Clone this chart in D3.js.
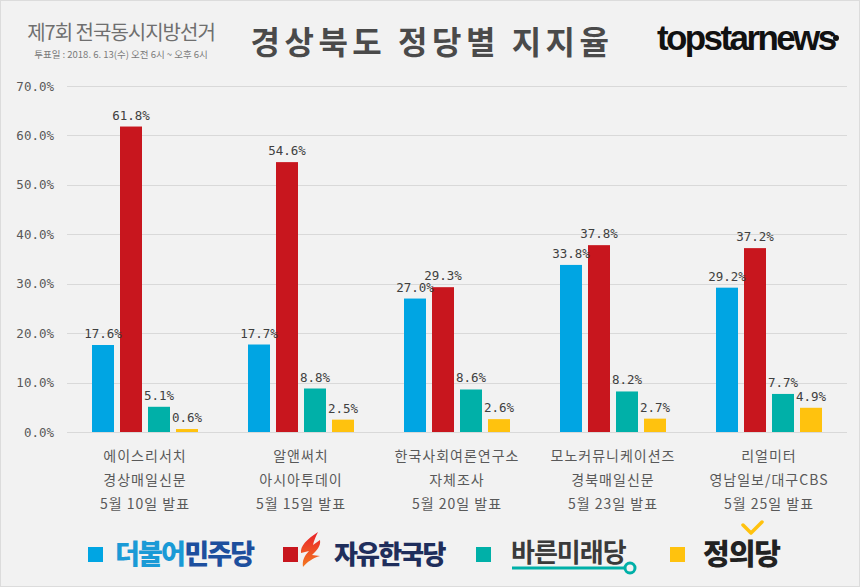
<!DOCTYPE html>
<html><head><meta charset="utf-8">
<script src="https://cdn.jsdelivr.net/npm/d3@7"></script>
<style>
html,body{margin:0;padding:0;background:#f2f2f2;}
svg{display:block;}
</style></head>
<body>
<svg id="chart" width="860" height="587"></svg>
<script>
const categories = [
  ["에이스리서치","경상매일신문","5월 10일 발표"],
  ["알앤써치","아시아투데이","5월 15일 발표"],
  ["한국사회여론연구소","자체조사","5월 20일 발표"],
  ["모노커뮤니케이션즈","경북매일신문","5월 23일 발표"],
  ["리얼미터","영남일보/대구CBS","5월 25일 발표"]
];
const parties = ["더불어민주당","자유한국당","바른미래당","정의당"];
const democratic = [17.6, 17.7, 27.0, 33.8, 29.2];
const libertyKorea = [61.8, 54.6, 29.3, 37.8, 37.2];
const bareunmirae = [5.1, 8.8, 8.6, 8.2, 7.7];
const justice = [0.6, 2.5, 2.6, 2.7, 4.9];
const yTicks = [0,10,20,30,40,50,60,70];
const colors = ["#00a5e3","#c8161e","#00b0a8","#ffc20e"];

const seriesValues = [democratic, libertyKorea, bareunmirae, justice];

const svg = d3.select("#chart");
svg.append("rect").attr("x",0.5).attr("y",0.5).attr("width",859).attr("height",586)
  .attr("fill","#f2f2f2").attr("stroke","#dcdcdc");

const plotL = 67, plotR = 847, plotT = 86, plotB = 432;
const x0 = d3.scaleBand().domain(d3.range(categories.length)).range([plotL,plotR]);
const x1 = d3.scaleBand().domain(d3.range(parties.length)).range([25,131]).paddingInner(0.2143);
const y = d3.scaleLinear().domain([0,70]).range([plotB,plotT]);

// grid
const grid = svg.append("g");
grid.selectAll("line").data(yTicks).join("line")
  .attr("x1",plotL).attr("x2",plotR)
  .attr("y1",d=>Math.round(y(d))+0.5).attr("y2",d=>Math.round(y(d))+0.5)
  .attr("stroke","#d9d9d9").attr("stroke-width",1);
grid.selectAll("text").data(yTicks).join("text")
  .attr("x",54).attr("y",d=>y(d)).attr("dy","0.36em")
  .attr("text-anchor","end")
  .attr("font-family","DejaVu Sans Mono, monospace").attr("font-size",12.5)
  .attr("fill","#595959")
  .text(d=>d.toFixed(1)+"%");

// bars
const groups = svg.append("g").selectAll("g").data(categories).join("g")
  .attr("transform",(d,i)=>`translate(${x0(i)},0)`);
groups.each(function(c,ci){
  const g = d3.select(this);
  const vals = seriesValues.map(s=>s[ci]);
  g.selectAll("rect").data(vals).join("rect")
    .attr("x",(d,i)=>x1(i)).attr("width",x1.bandwidth())
    .attr("y",d=>y(d)).attr("height",d=>y(0)-y(d))
    .attr("fill",(d,i)=>colors[i]);
  g.selectAll("text.val").data(vals).join("text").attr("class","val")
    .attr("x",(d,i)=>x1(i)+x1.bandwidth()/2).attr("y",d=>y(d)-7)
    .attr("text-anchor","middle")
    .attr("font-family","DejaVu Sans Mono, monospace").attr("font-size",12.5)
    .attr("fill","#404040")
    .text(d=>d.toFixed(1)+"%");
  g.selectAll("text.cat").data(c).join("text").attr("class","cat")
    .attr("x",x0.bandwidth()/2).attr("y",(d,i)=>461+i*24)
    .attr("text-anchor","middle")
    .attr("font-family","Noto Sans CJK KR, sans-serif").attr("font-size",14)
    .attr("letter-spacing",1)
    .attr("fill","#595959")
    .text(d=>d);
});

// header
svg.append("text").attr("x",121).attr("y",40).attr("text-anchor","middle")
  .attr("font-family","Noto Sans CJK KR, sans-serif").attr("font-size",20)
  .attr("fill","#6f6f6f").attr("letter-spacing",-1).text("제7회 전국동시지방선거");
svg.append("text").attr("x",121).attr("y",58).attr("text-anchor","middle")
  .attr("font-family","Noto Sans CJK KR, sans-serif").attr("font-size",9.5)
  .attr("fill","#7a7a7a").text("투표일 : 2018. 6. 13(수) 오전 6시 ~ 오후 6시");
svg.append("text").attr("x",432).attr("y",54).attr("text-anchor","middle")
  .attr("font-family","Noto Sans CJK KR, sans-serif").attr("font-weight","bold").attr("font-size",32)
  .attr("letter-spacing",4.5)
  .attr("fill","#4a4a4a").text("경상북도 정당별 지지율");
svg.append("text").attr("x",657).attr("y",50)
  .attr("font-family","Liberation Sans, Arial, sans-serif").attr("font-weight","bold").attr("font-size",35)
  .attr("letter-spacing",-2.6).attr("fill","#111").text("topstarnews");
svg.append("circle").attr("cx",836).attr("cy",38).attr("r",3).attr("fill","#111");

// legend
const leg = svg.append("g");
const sqX = [88, 283, 476, 670];
leg.selectAll("rect").data(colors).join("rect")
  .attr("x",(d,i)=>sqX[i]).attr("y",547).attr("width",15).attr("height",15).attr("fill",d=>d);

const t1 = leg.append("text").attr("x",115).attr("y",564)
  .attr("font-family","Noto Sans CJK KR, sans-serif").attr("font-weight","900").attr("font-size",27)
  .attr("letter-spacing",-1.8);
t1.append("tspan").attr("fill","#1a9ad6").text("더불어");
t1.append("tspan").attr("fill","#1d4f9e").text("민주당");

// flame
const defs = svg.append("defs");
const grad = defs.append("linearGradient").attr("id","flame").attr("x1",0).attr("y1",0).attr("x2",0).attr("y2",1);
grad.append("stop").attr("offset","0%").attr("stop-color","#e8202a");
grad.append("stop").attr("offset","100%").attr("stop-color","#f47920");
leg.append("path").attr("fill","url(#flame)")
  .attr("d","M318,532 C307,539 300,546 301,553 L309,551 C304,556 302,561 303,567 C307,562 313,558 320,556 L312,555 C317,550 321,546 320,540 L313,545 C314,540 316,536 318,532 Z");
leg.append("text").attr("x",334).attr("y",564)
  .attr("font-family","Noto Sans CJK KR, sans-serif").attr("font-weight","900").attr("font-size",26)
  .attr("letter-spacing",-1.8).attr("fill","#1f2e5c").text(parties[1]);

leg.append("text").attr("x",511).attr("y",562)
  .attr("font-family","Noto Sans CJK KR, sans-serif").attr("font-weight","bold").attr("font-size",26)
  .attr("letter-spacing",-1).attr("fill","#3a3a3a").text(parties[2]);
leg.append("line").attr("x1",512).attr("x2",624).attr("y1",568).attr("y2",568)
  .attr("stroke","#00b0a8").attr("stroke-width",3);
leg.append("circle").attr("cx",630).attr("cy",568).attr("r",5)
  .attr("fill","#f2f2f2").attr("stroke","#00b0a8").attr("stroke-width",3);

leg.append("text").attr("x",703).attr("y",565)
  .attr("font-family","Noto Sans CJK KR, sans-serif").attr("font-weight","900").attr("font-size",29)
  .attr("letter-spacing",-1).attr("fill","#222").text(parties[3]);
leg.append("path").attr("d","M743,525 L751,533 L762,522").attr("fill","none")
  .attr("stroke","#ffc20e").attr("stroke-width",3.5).attr("stroke-linecap","round").attr("stroke-linejoin","round");
</script>
</body></html>
